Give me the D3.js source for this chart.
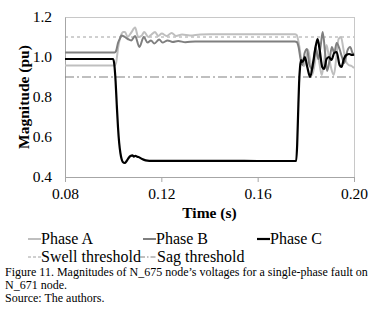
<!DOCTYPE html>
<html><head><meta charset="utf-8">
<script src="https://cdn.jsdelivr.net/npm/d3@7"></script>
<style>body{margin:0;background:#fff}svg{display:block}</style>
</head><body><svg id="c" width="383" height="318"></svg>
<script>
// ---- data ----
const timeA = [0.08,0.1006,0.1012,0.1021,0.1033,0.1042,0.1049,0.1060,0.1074,0.1091,0.1104,0.1119,0.1129,0.1146,0.1157,0.1174,0.1187,0.1202,0.1222,0.1243,0.1261,0.1286,0.1319,0.1361,0.1400,0.1755,0.1762,0.1772,0.1782,0.1792,0.1802,0.1810,0.1818,0.1826,0.1836,0.1846,0.1856,0.1866,0.1876,0.1886,0.1896,0.1906,0.1916,0.1926,0.1936,0.1946,0.1956,0.1966,0.1978,0.1990,0.2000];
const phaseA = [0.957,0.957,0.97,1.05,1.11,1.125,1.125,1.10,1.12,1.147,1.10,1.108,1.125,1.10,1.11,1.125,1.105,1.117,1.105,1.12,1.105,1.112,1.108,1.113,1.114,1.114,1.11,1.06,0.98,0.955,1.0,1.035,0.98,0.91,0.96,1.03,0.97,0.91,0.98,1.06,1.0,0.94,0.91,0.99,1.09,1.10,1.04,0.98,0.96,0.955,0.945];

const timeB = [0.08,0.1006,0.1012,0.1020,0.1028,0.1034,0.1048,0.1061,0.1075,0.1091,0.1109,0.1127,0.1143,0.1157,0.1171,0.1191,0.1205,0.1226,0.1247,0.1270,0.1300,0.1340,0.1400,0.1755,0.1762,0.1770,0.1778,0.1786,0.1795,0.1805,0.1815,0.1828,0.1840,0.1852,0.1862,0.1870,0.1880,0.1888,0.1898,0.1908,0.1918,0.1928,0.1940,0.1950,0.1960,0.1972,0.1984,0.1994,0.2000];
const phaseB = [1.023,1.023,1.03,1.07,1.092,1.108,1.10,1.09,1.083,1.105,1.05,1.10,1.072,1.083,1.067,1.088,1.072,1.083,1.075,1.08,1.074,1.078,1.077,1.077,1.075,1.05,0.99,0.96,1.02,1.04,0.96,0.94,1.05,0.99,1.06,1.125,1.02,0.93,0.98,1.05,1.02,1.07,1.04,1.0,0.97,1.03,1.05,1.02,1.01];

const timeC = [0.08,0.1000,0.1005,0.1010,0.1015,0.1020,0.1025,0.1030,0.1035,0.1040,0.1048,0.1056,0.1064,0.1072,0.1080,0.1086,0.1092,0.1098,0.1105,0.1120,0.1135,0.1150,0.1400,0.1600,0.1760,0.1764,0.1768,0.1772,0.1776,0.1780,0.1784,0.1789,0.1796,0.1806,0.1818,0.1830,0.1842,0.1849,0.1858,0.1868,0.1876,0.1886,0.1896,0.1906,0.1918,0.1928,0.1940,0.1948,0.1958,0.1968,0.1980,0.1992,0.2000];
const phaseC = [0.99,0.99,0.96,0.88,0.76,0.65,0.57,0.52,0.49,0.475,0.47,0.48,0.495,0.505,0.508,0.502,0.506,0.502,0.50,0.49,0.483,0.481,0.481,0.480,0.480,0.56,0.72,0.87,0.95,0.985,0.975,0.98,1.0,0.95,0.90,0.97,1.06,1.09,1.03,0.95,0.94,0.99,1.0,0.985,1.02,1.025,0.96,0.95,0.99,1.01,1.015,1.01,1.013];

const swellThreshold = 1.1;
const sagThreshold = 0.9;
const xTicks = [0.08,0.12,0.16,0.20];
const yTicks = [0.4,0.6,0.8,1.0,1.2];
const seriesNames = ["Phase A","Phase B","Phase C"];
const thresholdNames = ["Swell threshold","Sag threshold"];
const caption = ["Figure 11. Magnitudes of N_675 node\u2019s voltages for a single-phase fault on","N_671 node.","Source: The authors."];

// ---- drawing ----
const FONT = '"Liberation Serif", serif';
const svg = d3.select("#c");
const L=65, R=354, T=17, B=177;
const x = d3.scaleLinear().domain([0.08,0.20]).range([L,R]);
const y = d3.scaleLinear().domain([0.4,1.2]).range([B,T]);

svg.append("rect").attr("width",383).attr("height",318).attr("fill","#fff");

// frame
svg.append("rect").attr("x",L).attr("y",T).attr("width",R-L).attr("height",B-T)
  .attr("fill","none").attr("stroke","#c8c8c8").attr("stroke-width",1)
  .attr("shape-rendering","crispEdges");

// x axis
const xa = svg.append("g").attr("transform",`translate(0,${B})`)
  .call(d3.axisBottom(x).tickValues(xTicks).tickFormat(d3.format(".2f")).tickSize(5).tickPadding(6));
xa.select(".domain").attr("stroke","#a6a6a6");
xa.selectAll(".tick line").attr("stroke","#a6a6a6");
xa.selectAll("text").style("font-family",FONT).style("font-size","15.5px").attr("fill","#000");

// y axis
const ya = svg.append("g").attr("transform",`translate(${L},0)`)
  .call(d3.axisLeft(y).tickValues(yTicks).tickFormat(d3.format(".1f")).tickSize(0).tickPadding(13));
ya.select(".domain").attr("stroke","#a6a6a6");
ya.selectAll("text").style("font-family",FONT).style("font-size","15.5px").attr("fill","#000");

// axis titles
svg.append("text").attr("x",(L+R)/2).attr("y",218).attr("text-anchor","middle")
  .style("font-family",FONT).style("font-size","15.5px").style("font-weight","bold").text("Time (s)");
svg.append("text").attr("transform",`translate(29,${(T+B)/2}) rotate(-90)`).attr("text-anchor","middle")
  .style("font-family",FONT).style("font-size","15.5px").style("font-weight","bold").text("Magnitude (pu)");

// thresholds
svg.append("line").attr("x1",L).attr("x2",R).attr("y1",y(swellThreshold)).attr("y2",y(swellThreshold))
  .attr("stroke","#a0a0a0").attr("stroke-width",1).attr("stroke-dasharray","3,3");
svg.append("line").attr("x1",L).attr("x2",R).attr("y1",y(sagThreshold)).attr("y2",y(sagThreshold))
  .attr("stroke","#808080").attr("stroke-width",1.2).attr("stroke-dasharray","9,3,2,3");

// series
const line = d3.line().x(d=>x(d[0])).y(d=>y(d[1])).curve(d3.curveMonotoneX);
const series = [
  {t:timeA,v:phaseA,c:"#bfbfbf",w:2},
  {t:timeB,v:phaseB,c:"#7f7f7f",w:2},
  {t:timeC,v:phaseC,c:"#000000",w:2.2}
];
series.forEach(s=>{
  svg.append("path").datum(s.t.map((t,i)=>[t,s.v[i]])).attr("d",line)
    .attr("fill","none").attr("stroke",s.c).attr("stroke-width",s.w).attr("stroke-linejoin","round");
});

// legend
const legX = [28,143,257];
series.forEach((s,i)=>{
  const g = svg.append("g").attr("transform",`translate(${legX[i]},239)`);
  g.append("line").attr("x1",0).attr("x2",13).attr("stroke",s.c).attr("stroke-width",s.w);
  g.append("text").attr("x",13).attr("y",5).style("font-family",FONT).style("font-size","16px").text(seriesNames[i]);
});
const thr = [{dash:"3,2",c:"#a0a0a0",x:28},{dash:"5,2,1.5,2",c:"#808080",x:140}];
thr.forEach((s,i)=>{
  const g = svg.append("g").attr("transform",`translate(${s.x},257)`);
  g.append("line").attr("x1",0).attr("x2",i?17:13).attr("stroke",s.c).attr("stroke-width",1).attr("stroke-dasharray",s.dash);
  g.append("text").attr("x",i?17:13).attr("y",5).style("font-family",FONT).style("font-size","16px").text(thresholdNames[i]);
});

// caption
caption.forEach((c,i)=>{
  svg.append("text").attr("x",5).attr("y",276+i*13).style("font-family",FONT).style("font-size","12px").text(c);
});
</script></body></html>
